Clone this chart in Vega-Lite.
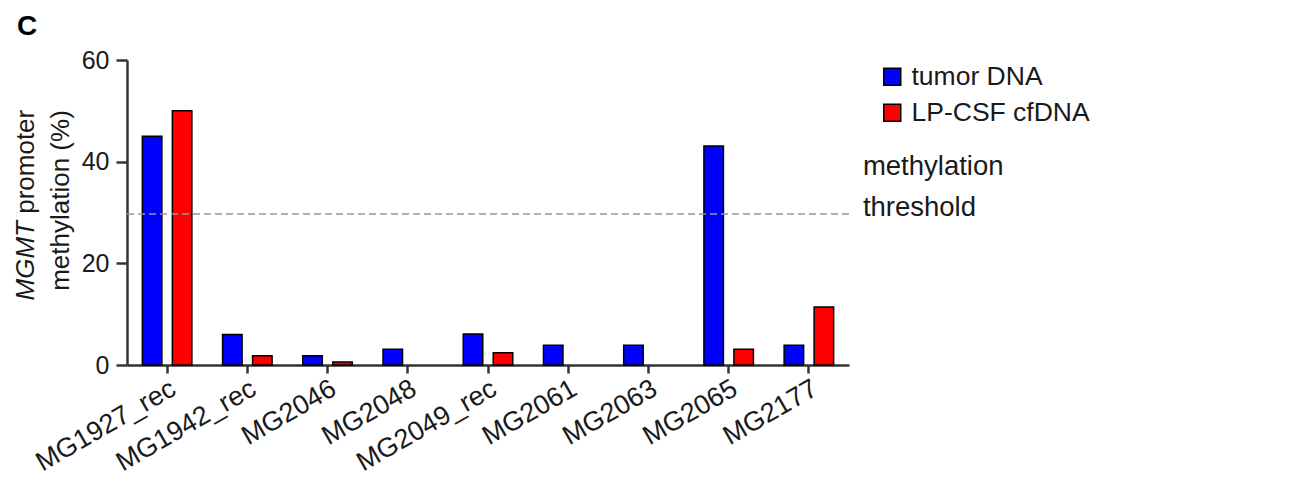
{
  "$schema": "https://vega.github.io/schema/vega-lite/v6.json",
  "width": 722,
  "height": 305,
  "autosize": {"type": "none"},
  "padding": {"left": 127, "top": 60, "right": 455, "bottom": 118},
  "background": "white",
  "config": {"font": "Liberation Sans", "view": {"stroke": null}},
  "title": {"text": "C", "anchor": "start", "frame": "group", "fontSize": 28, "fontWeight": "bold", "dx": -110, "offset": -15, "baseline": "alphabetic", "color": "black"},
  "resolve": {"axis": {"y": "independent"}},
  "layer": [
    {
      "data": {"values": [
        {"sample": "MG1927_rec", "source": "tumor DNA", "value": 45.0},
        {"sample": "MG1927_rec", "source": "LP-CSF cfDNA", "value": 50.0},
        {"sample": "MG1942_rec", "source": "tumor DNA", "value": 6.0},
        {"sample": "MG1942_rec", "source": "LP-CSF cfDNA", "value": 1.8},
        {"sample": "MG2046", "source": "tumor DNA", "value": 1.8},
        {"sample": "MG2046", "source": "LP-CSF cfDNA", "value": 0.6},
        {"sample": "MG2048", "source": "tumor DNA", "value": 3.1},
        {"sample": "MG2049_rec", "source": "tumor DNA", "value": 6.1},
        {"sample": "MG2049_rec", "source": "LP-CSF cfDNA", "value": 2.4},
        {"sample": "MG2061", "source": "tumor DNA", "value": 3.9},
        {"sample": "MG2063", "source": "tumor DNA", "value": 3.9},
        {"sample": "MG2065", "source": "tumor DNA", "value": 43.1},
        {"sample": "MG2065", "source": "LP-CSF cfDNA", "value": 3.1},
        {"sample": "MG2177", "source": "tumor DNA", "value": 3.9},
        {"sample": "MG2177", "source": "LP-CSF cfDNA", "value": 11.4}
      ]},
      "mark": {"type": "bar", "stroke": "black", "strokeWidth": 1.5},
      "encoding": {
        "x": {
          "field": "sample", "type": "nominal",
          "sort": ["MG1927_rec", "MG1942_rec", "MG2046", "MG2048", "MG2049_rec", "MG2061", "MG2063", "MG2065", "MG2177"],
          "scale": {"paddingInner": 0, "paddingOuter": 0},
          "axis": {"title": null, "labelAngle": -30, "labelAlign": "right", "labelBaseline": "top", "labelFontSize": 27, "labelColor": "#1a1a1a", "tickSize": 8, "tickWidth": 2.5, "tickColor": "#333333", "domainColor": "#333333", "domainWidth": 2.5, "labelPadding": 2, "grid": false}
        },
        "xOffset": {
          "field": "source", "type": "nominal",
          "sort": ["tumor DNA", "LP-CSF cfDNA"],
          "scale": {"domain": ["tumor DNA", "LP-CSF cfDNA"], "paddingInner": 0.35, "paddingOuter": 0.512}
        },
        "y": {
          "field": "value", "type": "quantitative",
          "scale": {"domain": [0, 60]},
          "axis": {"orient": "left", "title": "methylation (%)", "values": [0, 20, 40, 60], "tickSize": 11, "tickWidth": 2.5, "tickColor": "#333333", "domainColor": "#333333", "domainWidth": 2.5, "labelFontSize": 25, "labelColor": "#1a1a1a", "labelPadding": 7, "titleFontSize": 26, "titleFontWeight": "normal", "titleColor": "#1a1a1a", "titleAngle": -90, "titleAlign": "center", "titleBaseline": "alphabetic", "titleX": -59, "titleY": 140, "grid": false}
        },
        "color": {
          "field": "source", "type": "nominal",
          "sort": ["tumor DNA", "LP-CSF cfDNA"],
          "scale": {"domain": ["tumor DNA", "LP-CSF cfDNA"], "range": ["#0000ff", "#ff0000"]},
          "legend": {"title": null, "orient": "none", "legendX": 752, "legendY": 3.5, "symbolType": "square", "symbolSize": 289, "symbolStrokeColor": "black", "symbolStrokeWidth": 1.5, "symbolOpacity": 1, "labelFontSize": 26.5, "labelLimit": 400, "labelColor": "#1a1a1a", "labelOffset": 6, "rowPadding": 9, "padding": 0}
        }
      }
    },
    {
      "data": {"values": [{"threshold": 29.7}]},
      "mark": {"type": "rule", "color": "#999999", "strokeDash": [7, 4], "strokeWidth": 1.5},
      "encoding": {
        "y": {"field": "threshold", "type": "quantitative",
          "axis": {"orient": "left", "domain": false, "ticks": false, "labels": false, "grid": false, "title": "MGMT", "titleFontStyle": "italic", "titleFontWeight": "normal", "titleFontSize": 26, "titleColor": "#1a1a1a", "titleAngle": -90, "titleAlign": "left", "titleBaseline": "alphabetic", "titleX": -94, "titleY": 240}}
      }
    },
    {
      "data": {"values": [{"threshold": 29.7, "label": "methylation\nthreshold"}]},
      "mark": {"type": "text", "align": "left", "baseline": "alphabetic", "lineBreak": "\n", "lineHeight": 41, "fontSize": 27.5, "dx": 54, "dy": -39, "color": "#1a1a1a"},
      "encoding": {
        "x": {"datum": "MG2177"},
        "y": {"field": "threshold", "type": "quantitative",
          "axis": {"orient": "left", "domain": false, "ticks": false, "labels": false, "grid": false, "title": "promoter", "titleFontWeight": "normal", "titleFontSize": 26, "titleColor": "#1a1a1a", "titleAngle": -90, "titleAlign": "left", "titleBaseline": "alphabetic", "titleX": -94, "titleY": 153.3}},
        "text": {"field": "label"}
      }
    }
  ]
}
